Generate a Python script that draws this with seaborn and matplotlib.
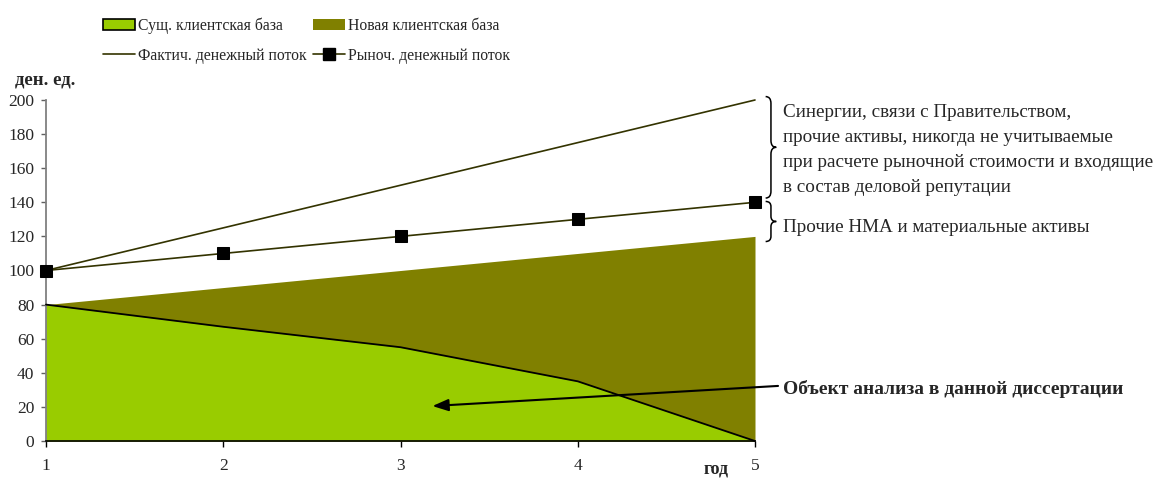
import matplotlib
matplotlib.use("Agg")
import matplotlib.pyplot as plt
import seaborn as sns
import pandas as pd
from matplotlib.path import Path
from matplotlib.patches import PathPatch, Patch
from matplotlib.lines import Line2D

# --- data -------------------------------------------------------------
years = [1, 2, 3, 4, 5]
existing_base = [80, 67, 55, 35, 0]        # Сущ. клиентская база
total_base = [80, 90, 100, 110, 120]       # верхняя граница Новой клиентской базы
actual_flow = [100, 125, 150, 175, 200]    # Фактич. денежный поток
market_flow = [100, 110, 120, 130, 140]    # Рыноч. денежный поток
y_ticks = [0, 20, 40, 60, 80, 100, 120, 140, 160, 180, 200]

labels = ["Сущ. клиентская база", "Новая клиентская база",
          "Фактич. денежный поток", "Рыноч. денежный поток"]

GREEN = "#99CC00"
OLIVE = "#808000"
LINE = "#333300"

sns.set_theme(style="white")
plt.rcParams["font.family"] = ["Liberation Serif", "DejaVu Serif"]

fig = plt.figure(figsize=(11.66, 4.79), dpi=100)
ax = fig.add_axes([46 / 1166, 38 / 479, 709 / 1166, 341 / 479])

df = pd.DataFrame({"year": years, "existing": existing_base, "total": total_base,
                   "actual": actual_flow, "market": market_flow})

# stacked areas
ax.fill_between(df["year"], 0, df["total"], color=OLIVE, lw=0, zorder=1)
ax.fill_between(df["year"], 0, df["existing"], color=GREEN, lw=0, zorder=2)
sns.lineplot(data=df, x="year", y="existing", ax=ax, color="black", lw=1.3,
             zorder=3, clip_on=False)

# cash flow lines
sns.lineplot(data=df, x="year", y="actual", ax=ax, color=LINE, lw=1.2, zorder=4,
             clip_on=False)
sns.lineplot(data=df, x="year", y="market", ax=ax, color=LINE, lw=1.2, zorder=4,
             marker="s", markersize=8, markerfacecolor="black",
             markeredgecolor="black", clip_on=False)

ax.set_xlim(1, 5)
ax.set_ylim(0, 200)
ax.set_xticks(years)
ax.set_yticks(y_ticks)
ax.set_xlabel("")
ax.set_ylabel("")
for s in ["top", "right"]:
    ax.spines[s].set_visible(False)
ax.spines["left"].set_color("#808080")
ax.spines["left"].set_linewidth(1.3)
ax.spines["bottom"].set_color("black")
ax.spines["bottom"].set_linewidth(1.2)
ax.tick_params(axis="x", direction="out", length=4, width=1, color="black",
               pad=8, labelsize=12.5, bottom=True)
ax.tick_params(axis="y", direction="out", length=3.5, width=1, color="#606060",
               pad=5, labelsize=12.5, left=True)

fig.text(15 / 1166, 1 - 80 / 479, "ден. ед.", fontsize=13.5, fontweight="bold",
         ha="left", va="center")
fig.text(716 / 1166, 1 - 469 / 479, "год", fontsize=13, fontweight="bold",
         ha="center", va="center")

# legend (column-major order: left column first)
handles = [
    Patch(facecolor=GREEN, edgecolor="black", linewidth=1.2),
    Line2D([], [], color=LINE, lw=1.2),
    Patch(facecolor=OLIVE, edgecolor="none"),
    Line2D([], [], color=LINE, lw=1.2, marker="s", markersize=8,
           markerfacecolor="black", markeredgecolor="black"),
]
leg_labels = [labels[0], labels[2], labels[1], labels[3]]
fig.legend(handles, leg_labels, ncol=2, loc="upper left",
           bbox_to_anchor=(103 / 1166, 1 - 17 / 479), frameon=False,
           fontsize=11.3, handlelength=2.05, handletextpad=0.15,
           columnspacing=0.45, labelspacing=0.9, borderpad=0, borderaxespad=0)


def brace(ax, x0, y_top, y_bot, w, r):
    xm = x0 + w / 2
    xt = x0 + w
    ymid = (y_top + y_bot) / 2
    verts = [(x0, y_top), (xm, y_top), (xm, y_top - r),
             (xm, ymid + r), (xm, ymid), (xt, ymid),
             (xm, ymid), (xm, ymid - r),
             (xm, y_bot + r), (xm, y_bot), (x0, y_bot)]
    codes = [Path.MOVETO, Path.CURVE3, Path.CURVE3,
             Path.LINETO, Path.CURVE3, Path.CURVE3,
             Path.CURVE3, Path.CURVE3,
             Path.LINETO, Path.CURVE3, Path.CURVE3]
    ax.add_patch(PathPatch(Path(verts, codes), facecolor="none",
                           edgecolor="black", lw=1.1, clip_on=False, zorder=5))


brace(ax, 5.06, 202, 142.5, 0.06, 4)
brace(ax, 5.06, 140.5, 117, 0.06, 3)

ax.text(5.158, 197.9,
        "Синергии, связи с Правительством,\n"
        "прочие активы, никогда не учитываемые\n"
        "при расчете рыночной стоимости и входящие\n"
        "в состав деловой репутации",
        fontsize=13.8, ha="left", va="top", linespacing=1.63, clip_on=False)
ax.text(5.158, 125.0, "Прочие НМА и материальные активы", fontsize=13.8,
        ha="left", va="center", clip_on=False)

ax.text(5.158, 30.5, "Объект анализа в данной диссертации", fontsize=14,
        fontweight="bold", ha="left", va="center", clip_on=False)
ax.annotate("", xy=(3.18, 20.5), xytext=(5.13, 32.3),
            arrowprops=dict(arrowstyle="-|>,head_length=0.8,head_width=0.3",
                            color="black", lw=1.5, shrinkA=0, shrinkB=0),
            annotation_clip=False, zorder=6)

fig.savefig("out.png", dpi=100)
